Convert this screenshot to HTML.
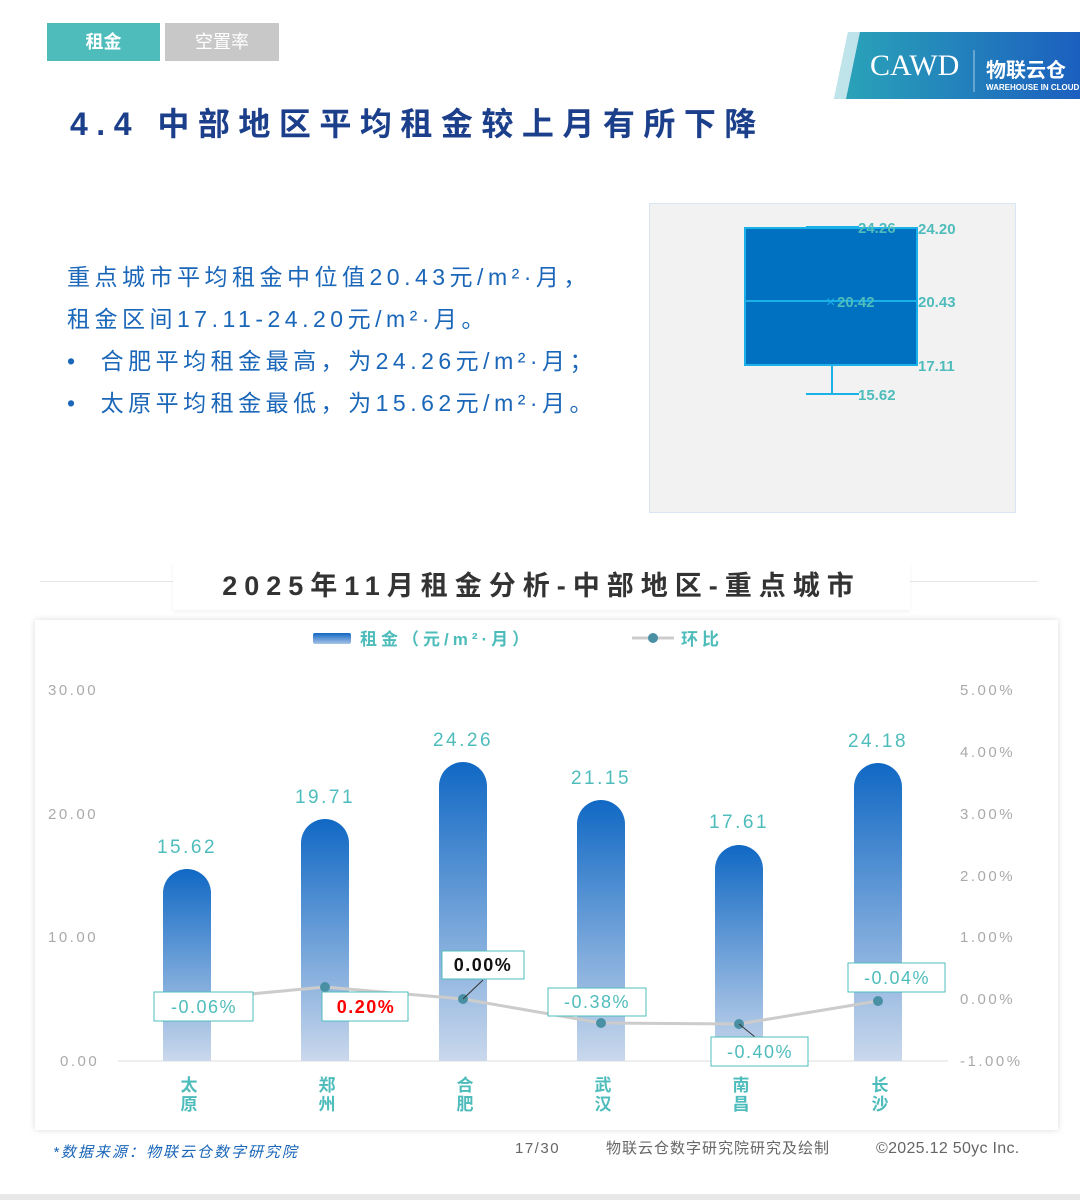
<!DOCTYPE html>
<html><head><meta charset="utf-8"><style>
body{margin:0;width:1080px;height:1200px;background:#fff;position:relative;overflow:hidden;font-family:"Liberation Sans","Noto Sans CJK SC",sans-serif}
.a{position:absolute}
</style></head><body>
<div class="a" style="left:47px;top:23px;width:113px;height:38px;background:#4fbcbc;color:#fff;font-size:18px;line-height:38px;text-align:center;font-weight:bold">租金</div>
<div class="a" style="left:165px;top:23px;width:114px;height:38px;background:#c8c8c8;color:#fff;font-size:18px;line-height:38px;text-align:center">空置率</div>
<svg class="a" style="left:834px;top:32px" width="246" height="67">
<defs><linearGradient id="lg" x1="0" x2="1"><stop offset="0" stop-color="#2aa6b8"/><stop offset="1" stop-color="#1c5fbf"/></linearGradient></defs>
<polygon points="14,0 246,0 246,67 0,67" fill="url(#lg)"/>
<polygon points="14,0 26,0 12,67 0,67" fill="#fff" opacity=".7"/>
<text x="36" y="43" fill="#fff" font-size="30" font-family="Liberation Serif">CAWD</text>
<line x1="140" y1="18" x2="140" y2="60" stroke="#fff" opacity=".6"/>
<text x="152" y="45" fill="#fff" font-size="20" font-weight="bold" font-family="Noto Sans CJK SC">物联云仓</text>
<text x="152" y="58" fill="#fff" font-size="8" font-weight="bold">WAREHOUSE IN CLOUD</text>
</svg>
<div class="a" style="left:70px;top:99px;font-size:32px;font-weight:bold;color:#1b3f8a;letter-spacing:8.5px;white-space:nowrap">4.4 中部地区平均租金较上月有所下降</div>
<div class="a" style="left:67px;top:256px;font-size:23px;line-height:42px;color:#1a66b8;letter-spacing:4.5px;white-space:nowrap">重点城市平均租金中位值20.43元/m²·月，<br>租金区间17.11-24.20元/m²·月。<br><span style="letter-spacing:0">•&nbsp;&nbsp;&nbsp;&nbsp;</span>合肥平均租金最高，为24.26元/m²·月；<br><span style="letter-spacing:0">•&nbsp;&nbsp;&nbsp;&nbsp;</span>太原平均租金最低，为15.62元/m²·月。</div>
<svg class="a" style="left:649px;top:203px" width="367" height="310" font-weight="bold" font-size="15" fill="#4fbcbc">
<rect x=".5" y=".5" width="366" height="309" fill="#f2f2f2" stroke="#d8e6f5"/>
<line x1="157" y1="24" x2="210" y2="24" stroke="#1ab0e8" stroke-width="2"/>
<rect x="96" y="25" width="172" height="137" fill="#0070c0" stroke="#1ab0e8" stroke-width="2"/>
<line x1="96" y1="98" x2="268" y2="98" stroke="#1ab0e8" stroke-width="2"/>
<line x1="183" y1="162" x2="183" y2="191" stroke="#1ab0e8" stroke-width="2"/>
<line x1="157" y1="191" x2="210" y2="191" stroke="#1ab0e8" stroke-width="2"/>
<text x="177" y="104" fill="#1ab0e8" font-weight="normal" font-size="16">×</text>
<text x="209" y="30">24.26</text><text x="269" y="31">24.20</text>
<text x="188" y="104">20.42</text><text x="269" y="104">20.43</text>
<text x="269" y="168">17.11</text><text x="209" y="197">15.62</text>
</svg>
<div class="a" style="left:40px;top:581px;width:998px;height:1px;background:#e6e6e6"></div>
<div class="a" style="left:35px;top:620px;width:1023px;height:510px;background:#fff;box-shadow:0 0 6px rgba(0,0,0,.15)"></div>
<div class="a" style="left:173px;top:562px;width:737px;height:48px;background:#fff;box-shadow:0 2px 4px rgba(0,0,0,.05);text-align:center;font-size:27px;line-height:48px;color:#333;letter-spacing:7px;font-weight:bold;white-space:nowrap">2025年11月租金分析-中部地区-重点城市</div>
<svg class="a" style="left:0;top:0" width="1080" height="1200" font-family="Liberation Sans,Noto Sans CJK SC,sans-serif">
<defs><linearGradient id="bg" x1="0" y1="0" x2="0" y2="1"><stop offset="0" stop-color="#1068c4"/><stop offset="1" stop-color="#cad8ec"/></linearGradient>
<linearGradient id="lgd" x1="0" y1="0" x2="0" y2="1"><stop offset="0" stop-color="#1068c4"/><stop offset="1" stop-color="#a9c3e6"/></linearGradient></defs>
<rect x="313" y="633" width="38" height="11" fill="url(#lgd)" rx="2"/>
<text x="360" y="645" font-size="17" fill="#4fbcbc" letter-spacing="4" font-weight="bold">租金（元/m²·月）</text>
<line x1="632" y1="638" x2="674" y2="638" stroke="#ccc" stroke-width="3"/><circle cx="653" cy="638" r="5" fill="#4a90a4"/>
<text x="681" y="645" font-size="17" fill="#4fbcbc" letter-spacing="4" font-weight="bold">环比</text>
<g font-size="15" fill="#aaa" letter-spacing="2.5">
<text x="48" y="695">30.00</text><text x="48" y="819">20.00</text><text x="48" y="942">10.00</text><text x="60" y="1066">0.00</text>
<text x="960" y="695">5.00%</text><text x="960" y="757">4.00%</text><text x="960" y="819">3.00%</text><text x="960" y="881">2.00%</text><text x="960" y="942">1.00%</text><text x="960" y="1004">0.00%</text><text x="960" y="1066">-1.00%</text>
</g>
<line x1="118" y1="1061" x2="948" y2="1061" stroke="#ddd"/>
<g fill="url(#bg)">
<path d="M163,1061V893a24,24 0 0 1 48,0V1061Z"/>
<path d="M301,1061V843a24,24 0 0 1 48,0V1061Z"/>
<path d="M439,1061V786a24,24 0 0 1 48,0V1061Z"/>
<path d="M577,1061V824a24,24 0 0 1 48,0V1061Z"/>
<path d="M715,1061V869a24,24 0 0 1 48,0V1061Z"/>
<path d="M854,1061V787a24,24 0 0 1 48,0V1061Z"/>
</g>
<g font-size="19" fill="#4fbcbc" text-anchor="middle" letter-spacing="2.5">
<text x="187" y="853">15.62</text><text x="325" y="803">19.71</text><text x="463" y="746">24.26</text><text x="601" y="784">21.15</text><text x="739" y="828">17.61</text><text x="878" y="747">24.18</text>
</g>
<polyline points="187,1000 325,987 463,999 601,1023 739,1024 878,1001" fill="none" stroke="#ccc" stroke-width="3"/>
<g fill="#4a90a4"><circle cx="187" cy="1000" r="5"/><circle cx="325" cy="987" r="5"/><circle cx="463" cy="999" r="5"/><circle cx="601" cy="1023" r="5"/><circle cx="739" cy="1024" r="5"/><circle cx="878" cy="1001" r="5"/></g>
<g stroke="#333"><line x1="463" y1="999" x2="483" y2="980"/><line x1="739" y1="1024" x2="755" y2="1037"/></g>
<g font-size="18" text-anchor="middle" letter-spacing="1.5" font-weight="bold">
<rect x="154" y="992" width="99" height="29" fill="#fff" stroke="#4fbcbc"/><text x="204" y="1013" fill="#4fbcbc" font-weight="normal">-0.06%</text>
<rect x="322" y="992" width="86" height="29" fill="#fff" stroke="#4fbcbc"/><text x="366" y="1013" fill="#f00">0.20%</text>
<rect x="442" y="951" width="82" height="28" fill="#fff" stroke="#4fbcbc"/><text x="483" y="971" fill="#111">0.00%</text>
<rect x="548" y="988" width="98" height="28" fill="#fff" stroke="#4fbcbc"/><text x="597" y="1008" fill="#4fbcbc" font-weight="normal">-0.38%</text>
<rect x="711" y="1037" width="97" height="29" fill="#fff" stroke="#4fbcbc"/><text x="760" y="1058" fill="#4fbcbc" font-weight="normal">-0.40%</text>
<rect x="848" y="963" width="97" height="29" fill="#fff" stroke="#4fbcbc"/><text x="897" y="984" fill="#4fbcbc" font-weight="normal">-0.04%</text>
</g>
<g font-size="17" fill="#4fbcbc" text-anchor="middle" font-weight="bold">
<text x="189" y="1091">太</text><text x="189" y="1110">原</text>
<text x="327" y="1091">郑</text><text x="327" y="1110">州</text>
<text x="465" y="1091">合</text><text x="465" y="1110">肥</text>
<text x="603" y="1091">武</text><text x="603" y="1110">汉</text>
<text x="741" y="1091">南</text><text x="741" y="1110">昌</text>
<text x="880" y="1091">长</text><text x="880" y="1110">沙</text>
</g>
<text x="53" y="1157" font-size="15" fill="#1a66b8" font-style="italic" letter-spacing="2">*数据来源：物联云仓数字研究院</text>
<text x="515" y="1153" font-size="15" fill="#666" letter-spacing="1.5">17/30</text>
<text x="606" y="1153" font-size="15" fill="#666" letter-spacing="1">物联云仓数字研究院研究及绘制</text>
<text x="876" y="1153" font-size="16" fill="#666" letter-spacing="0.3">©2025.12 50yc Inc.</text>
</svg>
<div class="a" style="left:0;top:1194px;width:1080px;height:6px;background:#e8e8e8"></div>
</body></html>
